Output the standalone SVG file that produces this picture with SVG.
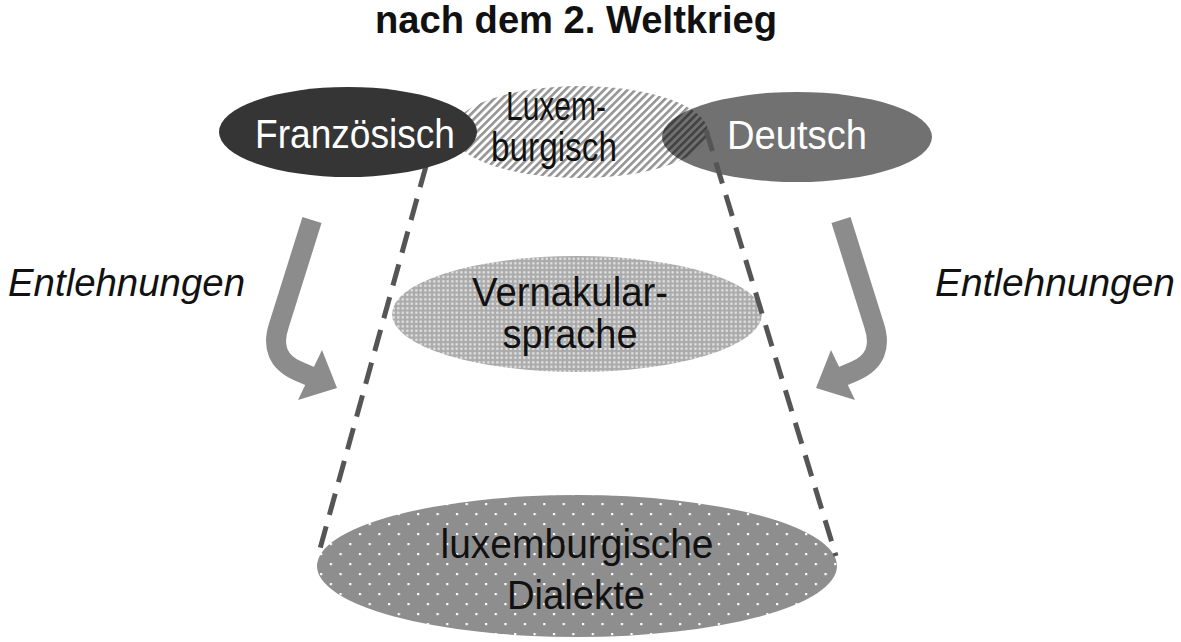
<svg xmlns="http://www.w3.org/2000/svg" width="1181" height="642" viewBox="0 0 1181 642">
  <style>
    .lbl { font-family: "Liberation Sans", Arial, sans-serif; font-size: 40px; text-anchor: middle; }
    .white { fill: #ffffff; }
    .black { fill: #111111; }
    .title { font-family: "Liberation Sans", Arial, sans-serif; font-size: 38px; font-weight: bold; fill: #111111; }
    .ent { font-family: "Liberation Sans", Arial, sans-serif; font-size: 39px; font-style: italic; fill: #111111; }
    .dash { fill: none; stroke: #555555; stroke-width: 5; stroke-dasharray: 22 12; }
    .arrow-shaft { fill: none; stroke: #8c8c8c; stroke-width: 20; stroke-linejoin: round; }
    .arrow-head { fill: #8c8c8c; }
  </style>
  <defs>
    <pattern id="hatch" patternUnits="userSpaceOnUse" width="5.5" height="5.5" patternTransform="rotate(45)">
      <rect x="0" y="0" width="2.6" height="5.5" fill="#000000" fill-opacity="0.42"/>
    </pattern>
    <pattern id="fineDots" patternUnits="userSpaceOnUse" width="4.5" height="4.5">
      <rect x="0" y="0" width="4.5" height="4.5" fill="#ababab"/>
      <rect x="1.2" y="1.2" width="2.2" height="2.2" fill="#e8e8e8"/>
    </pattern>
    <pattern id="sparseDots" patternUnits="userSpaceOnUse" width="19.4" height="20" x="0" y="3">
      <rect x="0" y="0" width="19.4" height="20" fill="#8e8e8e"/>
      <rect x="0" y="0" width="2.2" height="2.2" fill="#ffffff"/>
      <rect x="9.7" y="10" width="2.2" height="2.2" fill="#ffffff"/>
    </pattern>
  </defs>
  <rect x="0" y="0" width="1181" height="642" fill="#ffffff"/>

  <text class="title" x="375" y="33" textLength="402" lengthAdjust="spacingAndGlyphs">nach dem 2. Weltkrieg</text>

  <g id="node-deutsch">
    <ellipse cx="797" cy="137" rx="135" ry="45" fill="#717171"/>
    <text class="lbl white" x="797" y="149" textLength="140" lengthAdjust="spacingAndGlyphs">Deutsch</text>
  </g>

  <g id="node-luxemburgisch">
    <ellipse cx="580" cy="132" rx="128" ry="46" fill="url(#hatch)"/>
    <text class="lbl black" x="556" y="120" textLength="100" lengthAdjust="spacingAndGlyphs">Luxem-</text>
    <text class="lbl black" x="554" y="161" textLength="126" lengthAdjust="spacingAndGlyphs">burgisch</text>
  </g>

  <g id="node-vernakular">
    <ellipse cx="577" cy="314" rx="185" ry="58" fill="url(#fineDots)"/>
    <text class="lbl black" x="570" y="306" textLength="196" lengthAdjust="spacingAndGlyphs">Vernakular-</text>
    <text class="lbl black" x="570" y="348" textLength="135" lengthAdjust="spacingAndGlyphs">sprache</text>
  </g>

  <g id="node-dialekte">
    <ellipse cx="577" cy="566" rx="260" ry="71" fill="url(#sparseDots)"/>
    <text class="lbl black" x="577" y="558" textLength="273" lengthAdjust="spacingAndGlyphs">luxemburgische</text>
    <text class="lbl black" x="576" y="609" textLength="138" lengthAdjust="spacingAndGlyphs">Dialekte</text>
  </g>

  <g id="connectors">
    <line class="dash" x1="426" y1="166" x2="318" y2="556"/>
    <line class="dash" x1="706" y1="130" x2="836" y2="556"/>
    <g id="arrow-left">
      <path class="arrow-shaft" d="M312,220 L279,325 Q268,358 298,371 L312,377"/>
      <polygon class="arrow-head" points="337,388 298,400 322,350"/>
    </g>
    <g id="arrow-right" transform="translate(1153,0) scale(-1,1)">
      <path class="arrow-shaft" d="M312,220 L279,325 Q268,358 298,371 L312,377"/>
      <polygon class="arrow-head" points="337,388 298,400 322,350"/>
    </g>
  </g>

  <g id="node-franzoesisch">
    <ellipse cx="348" cy="132" rx="129" ry="45" fill="#353535"/>
    <text class="lbl white" x="355" y="148" textLength="200" lengthAdjust="spacingAndGlyphs">Französisch</text>
  </g>

  <text class="ent" x="8" y="296" textLength="237" lengthAdjust="spacingAndGlyphs">Entlehnungen</text>
  <text class="ent" x="935" y="296" textLength="240" lengthAdjust="spacingAndGlyphs">Entlehnungen</text>
</svg>
